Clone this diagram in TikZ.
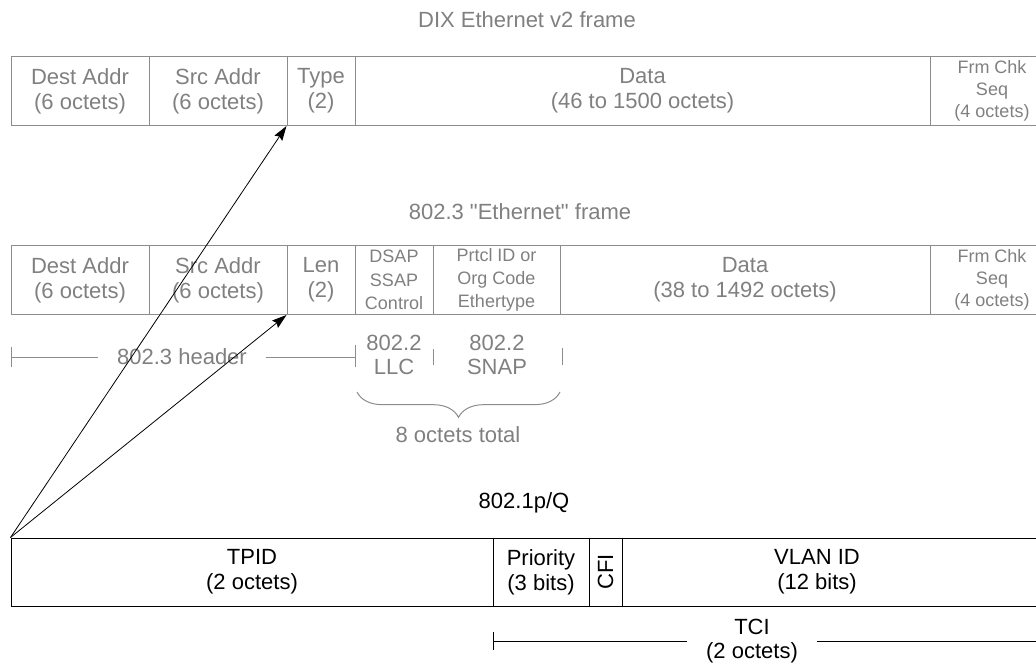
\documentclass[tikz,border=0pt]{standalone}
\usepackage{fontspec}
\setmainfont{Liberation Sans}[Ligatures=TeXOff]
\usetikzlibrary{arrows.meta,decorations.pathreplacing}
\definecolor{fieldgray}{HTML}{808080}
\definecolor{rulegray}{HTML}{8C8C8C}

\begin{document}
\begin{tikzpicture}[x=0.75pt,y=-0.75pt,
  cell/.style 2 args={rectangle, inner sep=0pt, minimum width=#1*0.75pt,
    minimum height=#2*0.75pt, align=center},
  graycell/.style={draw=rulegray, text=fieldgray, line width=0.75pt},
  blackcell/.style={draw=black, text=black, line width=0.75pt},
  big/.style={font=\fontsize{16.5}{18.5}\selectfont},
  small/.style={font=\fontsize{13.5}{16.5}\selectfont},
  graytext/.style={text=fieldgray, align=center, inner sep=0pt},
  blacktext/.style={text=black, align=center, inner sep=0pt},
  grayrule/.style={draw=rulegray, line width=0.75pt},
  blackrule/.style={draw=black, line width=0.75pt},
  link/.style={draw=black, line width=0.6pt,
    -{Stealth[length=11pt, width=7pt, inset=1.5pt]}}
]
\useasboundingbox (0,0) rectangle (1036,664);
\clip (0,0) rectangle (1036,664);

% ---------- DIX Ethernet v2 frame ----------
\node[graytext, big] (title1) at (527,20) {DIX Ethernet v2 frame};
\node[graycell, big,   cell={138}{69}] (dest1) at (80,91)    {Dest Addr\\(6 octets)};
\node[graycell, big,   cell={138}{69}] (src1)  at (218,91)   {Src Addr\\(6 octets)};
\node[graycell, big,   cell={68}{69}]  (type1) at (321,91)   {Type\\(2)};
\node[graycell, big,   cell={575}{69}] (data1) at (642.5,91) {Data\\(46 to 1500 octets)};
\node[graycell, small, cell={124}{69}] (fcs1)  at (992,91)   {Frm Chk\\Seq\\(4 octets)};

% ---------- 802.3 "Ethernet" frame ----------
\node[graytext, big] (title2) at (520,212) {802.3 "Ethernet" frame};
\node[graycell, big,   cell={138}{69}] (dest2) at (80,280)    {Dest Addr\\(6 octets)};
\node[graycell, big,   cell={138}{69}] (src2)  at (218,280)   {Src Addr\\(6 octets)};
\node[graycell, big,   cell={68}{69}]  (len2)  at (321,280)   {Len\\(2)};
\node[graycell, small, cell={78}{69}, font=\fontsize{13.5}{17.5}\selectfont]
  (llc2) at (394,280) {DSAP\\SSAP\\Control};
\node[graycell, small, cell={127}{69}, font=\fontsize{13.5}{17.5}\selectfont]
  (snap2) at (496.5,280) {Prtcl ID or\\Org Code\\Ethertype};
\node[graycell, big,   cell={370}{69}] (data2) at (745,280)   {Data\\(38 to 1492 octets)};
\node[graycell, small, cell={124}{69}] (fcs2)  at (992,280)   {Frm Chk\\Seq\\(4 octets)};

% header span below the 802.3 frame
\coordinate (hdrL) at (11,357);
\coordinate (hdrR) at (355,357);
\node[graytext, big, inner xsep=14pt] (hdr) at (182,357) {802.3 header};
\draw[grayrule] (hdrL) -- (hdr.west);
\draw[grayrule] (hdr.east) -- (hdrR);
\draw[grayrule] (hdrL) ++(0,-10) -- ++(0,20);
\draw[grayrule] (hdrR) ++(0,-12) -- ++(0,22);
\draw[grayrule] (433,349) -- (433,365);
\draw[grayrule] (562,348) -- (562,365);
\node[graytext, big] (llc) at (394,355) {802.2\\LLC};
\node[graytext, big] (snap) at (497,355) {802.2\\SNAP};

% brace over LLC + SNAP
\coordinate (braceL) at (357,392);
\coordinate (braceR) at (560,392);
\draw[grayrule, decorate, decoration={brace, mirror, amplitude=19pt}]
  (braceL) -- (braceR);
\node[graytext, big] (total) at (458,435) {8 octets total};

% ---------- 802.1p/Q tag ----------
\node[blacktext, big] (title3) at (524,503) {802.1p/Q};
\node[blackcell, big, cell={482}{68}] (tpid) at (252,572)   {TPID\\(2 octets)};
\node[blackcell, big, cell={96}{68}]  (prio) at (541,572)   {Priority\\(3 bits)};
\node[blackcell, big, cell={68}{33}, rotate=90] (cfi) at (605.5,572) {CFI};
\node[blackcell, cell={438}{68}]      (vlan) at (841,572)   {};
\node[blacktext, big] (vlantext) at (817,572) {VLAN ID\\(12 bits)};

% TCI span
\coordinate (tciL) at (493,641);
\coordinate (tciR) at (1040,641);
\node[blacktext, big, inner xsep=14pt] (tci) at (752,641) {TCI\\(2 octets)};
\draw[blackrule] (tciL) -- (tci.west);
\draw[blackrule] (tci.east) -- (tciR);
\draw[blackrule] (tciL) ++(0,-9) -- ++(0,18);

% tag insertion point
\draw[link] (tpid.north west) -- (type1.south west);
\draw[link] (tpid.north west) -- (len2.south west);
\end{tikzpicture}
\end{document}
